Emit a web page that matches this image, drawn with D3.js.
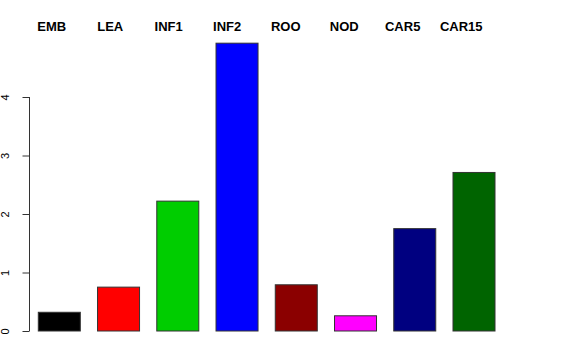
<!DOCTYPE html>
<html>
<head>
<meta charset="utf-8">
<script src="https://cdn.jsdelivr.net/npm/d3@7"></script>
<style>
  body { margin: 0; background: #fff; }
  svg { display: block; font-family: "Liberation Sans", Arial, sans-serif; }
</style>
</head>
<body>
<script>
var width = 576
var height = 360

// data
var tissues = ['EMB', 'LEA', 'INF1', 'INF2', 'ROO', 'NOD', 'CAR5', 'CAR15']
var values = [0.32, 0.75, 2.22, 4.92, 0.79, 0.26, 1.75, 2.71]
var colors = ['#000000', '#FF0000', '#00CD00', '#0000FF', '#8B0000', '#FF00FF', '#000080', '#006400']
var yTicks = [0, 1, 2, 3, 4]

var svg = d3.select('body').append('svg')
    .attr('width', width)
    .attr('height', height)

var x = d3.scaleBand()
    .domain(tissues)
    .range([38.3, 495])
    .paddingInner(0.291)
    .paddingOuter(0)

// the labels on top sit on their own, slightly tighter spacing
var xl = d3.scalePoint()
    .domain(tissues)
    .range([51.7, 461.2])

var y = d3.scaleLinear()
    .domain([0, 4])
    .range([331, 97])

svg.selectAll('rect.bar')
    .data(values)
  .enter().append('rect')
    .attr('class', 'bar')
    .attr('x', function (d, i) { return x(tissues[i]) })
    .attr('y', function (d) { return y(d) })
    .attr('width', x.bandwidth())
    .attr('height', function (d) { return y(0) - y(d) })
    .style('fill', function (d, i) { return colors[i] })
    .style('stroke', '#333')
    .style('stroke-width', 1)

var yAxis = svg.append('g')
    .attr('transform', 'translate(29.5,0)')
    .call(d3.axisLeft(y).tickValues(yTicks).tickSize(7).tickFormat(d3.format('d')))

yAxis.select('.domain').attr('stroke', '#333').attr('d', 'M0,' + y(0) + 'V' + y(4))
yAxis.selectAll('.tick line').attr('stroke', '#333')
yAxis.selectAll('.tick text')
    .attr('x', null)
    .attr('dy', null)
    .attr('transform', 'translate(-20.6,0) rotate(-90)')
    .attr('text-anchor', 'middle')
    .style('font-size', '11px')
    .style('font-family', '"Liberation Sans", Arial, sans-serif')
    .attr('fill', '#000')

svg.selectAll('text.lab')
    .data(tissues)
  .enter().append('text')
    .attr('class', 'lab')
    .attr('x', function (d) { return xl(d) })
    .attr('y', 31.3)
    .attr('text-anchor', 'middle')
    .style('font-size', '13px')
    .style('font-weight', 'bold')
    .text(function (d) { return d })
</script>
</body>
</html>
